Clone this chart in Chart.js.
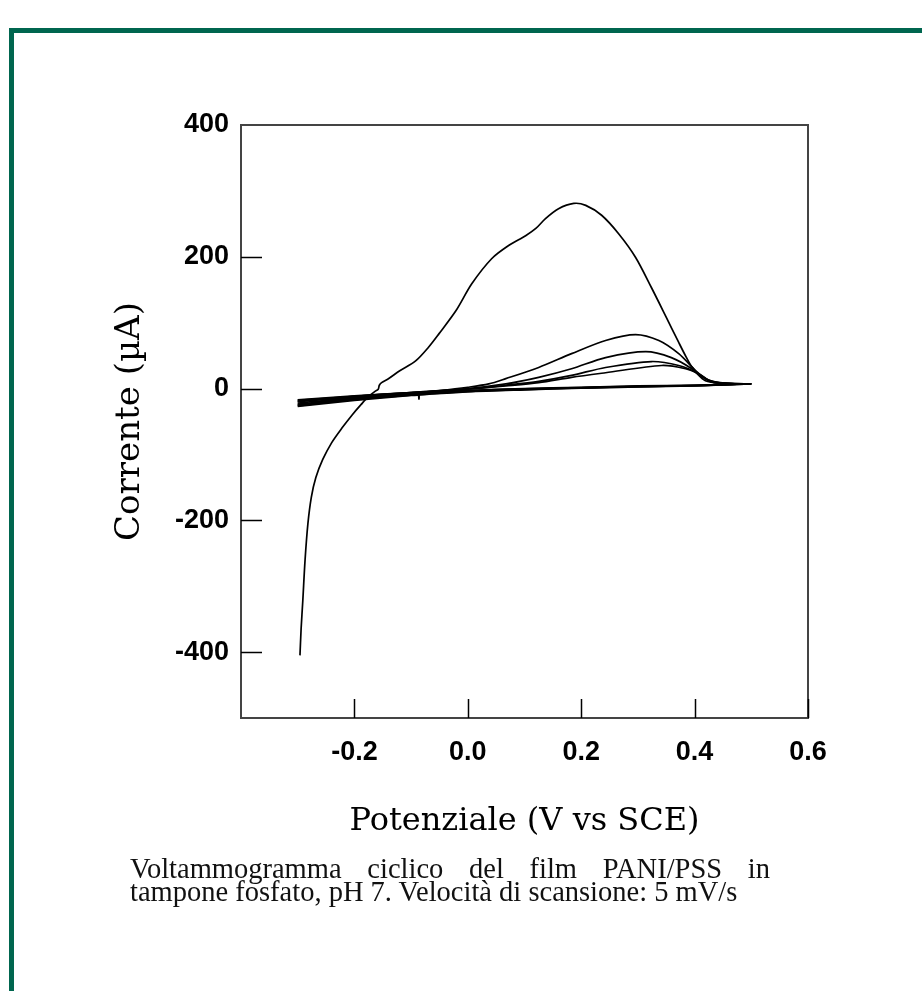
<!DOCTYPE html>
<html>
<head>
<meta charset="utf-8">
<script src="https://cdn.jsdelivr.net/npm/chart.js@4.4.1/dist/chart.umd.min.js"></script>
<style>
  body { margin: 0; background: #fff; }
  #wrap { position: relative; width: 922px; height: 991px; overflow: hidden; }
  #frame { position: absolute; left: 9px; top: 28px; width: 940px; height: 1000px;
           border-left: 5px solid #00664f; border-top: 5px solid #00664f; }
  #grafico { position: absolute; left: 0; top: 0; }
  .caption { position: absolute; left: 130px; font-family: "Liberation Serif", "Times New Roman", serif;
             font-size: 28.5px; color: #111; white-space: nowrap; }
  #riga1 { top: 853px; width: 640px; text-align: justify; text-align-last: justify; white-space: normal; }
  #riga2 { top: 876px; }
</style>
</head>
<body>
<div id="wrap">
  <div id="frame"></div>
  <canvas id="grafico" width="922" height="991"></canvas>
  <div class="caption" id="riga1">Voltammogramma ciclico del film PANI/PSS in</div>
  <div class="caption" id="riga2">tampone fosfato, pH 7. Velocità di scansione: 5 mV/s</div>
</div>
<script>
// ticks
var xTicks = [-0.2, 0.0, 0.2, 0.4, 0.6];
var yTicks = [-400, -200, 0, 200, 400];

// primo ciclo, scansione anodica
var ciclo1V = [-0.296, -0.294, -0.291, -0.287, -0.282, -0.276, -0.268, -0.256, -0.240, -0.222, -0.204, -0.188, -0.175, -0.163, -0.158, -0.156, -0.152, -0.140, -0.120, -0.092, -0.070, -0.051, -0.021, 0.007, 0.042, 0.072, 0.102, 0.120, 0.137, 0.160, 0.187, 0.208, 0.236, 0.266, 0.296, 0.324, 0.349, 0.372, 0.385, 0.395, 0.410, 0.425, 0.445, 0.470, 0.500];
var ciclo1I = [-405, -365, -322, -260, -205, -165, -135, -108, -82, -60, -40, -24, -12, -4, -1, 5, 9, 15, 27, 42, 62, 83, 118, 159, 197, 217, 232, 243, 258, 273, 281, 278, 263, 235, 199, 153, 110, 70, 48, 33, 20, 13, 9, 7, 7];

// cicli successivi, scansione anodica
var ciclo2V = [-0.300, -0.200, -0.100, -0.050, 0.000, 0.037, 0.067, 0.125, 0.183, 0.243, 0.296, 0.337, 0.372, 0.402, 0.419, 0.442, 0.470, 0.500];
var ciclo2I = [-20, -13, -7, -3, 2, 7, 15, 32, 53, 73, 82, 73, 53, 27, 15, 9, 7, 7];
var ciclo3V = [-0.300, -0.200, -0.100, 0.000, 0.067, 0.125, 0.183, 0.243, 0.314, 0.359, 0.395, 0.419, 0.450, 0.500];
var ciclo3I = [-19, -12, -6, 0, 7, 17, 30, 47, 56, 47, 30, 12, 8, 7];
var ciclo4V = [-0.300, -0.200, -0.100, 0.000, 0.067, 0.125, 0.183, 0.243, 0.324, 0.372, 0.407, 0.430, 0.460, 0.500];
var ciclo4I = [-18, -12, -6, -1, 5, 11, 20, 32, 41, 35, 23, 10, 8, 7];
var ciclo5V = [-0.300, -0.200, -0.100, 0.000, 0.067, 0.125, 0.183, 0.243, 0.342, 0.384, 0.407, 0.430, 0.460, 0.500];
var ciclo5I = [-17, -11, -6, -1, 4, 9, 17, 24, 35, 30, 22, 10, 8, 7];

// scansioni catodiche (ritorno da 0.5 a -0.3 V)
var catodV = [0.5, 0.45, 0.4, 0.3, 0.2, 0.1, 0.0, -0.084, -0.086, -0.088, -0.1, -0.2, -0.3];
var catod1 = [7, 6, 5, 4, 2, 0, -3, -7, -16, -7.5, -8, -14, -22];
var catod2 = [7, 6, 5, 3.5, 1.5, -0.5, -3.5, -8, -8, -8.5, -9, -15, -24];
var catod3 = [7, 6, 4.5, 3, 1, -1, -4, -8.5, -8.5, -9, -9.5, -16, -25];
var catod4 = [7, 5.5, 4.5, 3, 1, -1.5, -4.5, -9, -9, -9.5, -10, -17, -26];
var catod5 = [7, 5.5, 4, 2.5, 0.5, -2, -5, -9.5, -9.5, -10, -10.5, -18, -27];

function punti(v, i) {
    var out = [];
    for (var k = 0; k < v.length; k++) {
        out.push({x: v[k], y: i[k]});
    }
    return out;
}

var anodiche = [[ciclo1V, ciclo1I], [ciclo2V, ciclo2I], [ciclo3V, ciclo3I], [ciclo4V, ciclo4I], [ciclo5V, ciclo5I]];
var catodiche = [catod1, catod2, catod3, catod4, catod5];
var datasets = [];
for (var c = 0; c < anodiche.length; c++) {
    var dati = punti(anodiche[c][0], anodiche[c][1]).concat(punti(catodV, catodiche[c]));
    datasets.push({
        data: dati,
        showLine: true,
        borderColor: '#000',
        borderWidth: 1.7,
        pointRadius: 0,
        tension: 0.3,
        fill: false
    });
}

// cornice superiore/destra e tacche interne
var cornice = {
    id: 'cornice',
    afterDraw: function (chart) {
        var ctx = chart.ctx;
        var a = chart.chartArea;
        var xs = chart.scales.x;
        var ys = chart.scales.y;
        ctx.save();
        ctx.strokeStyle = '#444';
        ctx.lineWidth = 2;
        ctx.beginPath();
        ctx.moveTo(a.left, a.top);
        ctx.lineTo(a.right, a.top);
        ctx.lineTo(a.right, a.bottom);
        ctx.stroke();
        ctx.strokeStyle = '#000';
        ctx.lineWidth = 1.5;
        ctx.beginPath();
        for (var i = 0; i < xTicks.length; i++) {
            var px = Math.round(xs.getPixelForValue(xTicks[i])) + 0.5;
            ctx.moveTo(px, a.bottom);
            ctx.lineTo(px, a.bottom - 19);
        }
        for (var j = 0; j < yTicks.length; j++) {
            if (yTicks[j] >= ys.max) continue;
            var py = Math.round(ys.getPixelForValue(yTicks[j])) + 0.5;
            ctx.moveTo(a.left, py);
            ctx.lineTo(a.left + 21, py);
        }
        ctx.stroke();
        ctx.restore();
    }
};

var fontTick = {family: 'Liberation Sans, Arial, sans-serif', size: 27, weight: 'bold'};

var ctx = document.getElementById('grafico');
var chart = new Chart(ctx, {
    type: 'scatter',
    data: {datasets: datasets},
    options: {
        responsive: false,
        animation: false,
        events: [],
        layout: {padding: {left: 0, top: 125, right: 114, bottom: 123}},
        plugins: {legend: {display: false}, tooltip: {enabled: false}},
        scales: {
            x: {
                type: 'linear',
                min: -0.4,
                max: 0.6,
                afterBuildTicks: function (s) { s.ticks = xTicks.map(function (v) { return {value: v}; }); },
                afterFit: function (s) { s.height = 150; },
                grid: {display: false, drawTicks: false},
                border: {display: true, color: '#444', width: 2},
                ticks: {
                    color: '#000',
                    font: fontTick,
                    padding: 18,
                    maxRotation: 0,
                    autoSkip: false,
                    callback: function (v) { return v.toFixed(1); }
                },
                title: {display: true, text: 'Potenziale (V vs SCE)', color: '#000',
                        font: {family: 'DejaVu Serif, serif', size: 32}, padding: {top: 0, bottom: 27}}
            },
            y: {
                type: 'linear',
                min: -500,
                max: 400,
                afterBuildTicks: function (s) { s.ticks = yTicks.map(function (v) { return {value: v}; }); },
                afterFit: function (s) { s.width = 241; },
                grid: {display: false, drawTicks: false},
                border: {display: true, color: '#444', width: 2},
                ticks: {
                    color: '#000',
                    font: fontTick,
                    padding: 12,
                    autoSkip: false
                },
                title: {display: true, text: 'Corrente (µA)', color: '#000',
                        font: {family: 'DejaVu Serif, serif', size: 34}, padding: {top: 110, bottom: 0}}
            }
        }
    },
    plugins: [cornice]
});
</script>
</body>
</html>
